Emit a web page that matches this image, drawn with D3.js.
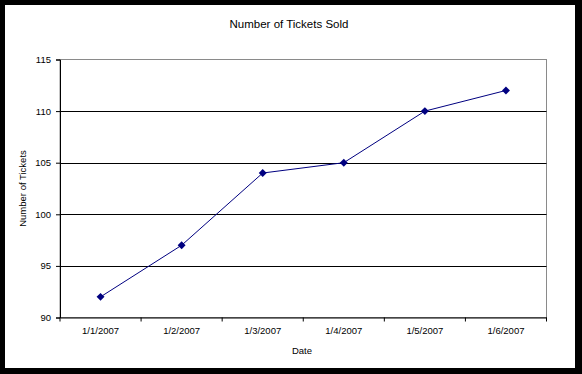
<!DOCTYPE html>
<html>
<head>
<meta charset="utf-8">
<script src="https://cdn.jsdelivr.net/npm/d3@7"></script>
<style>
  body { margin: 0; background: #000; }
  svg { display: block; }
  text { font-family: "Liberation Sans", Arial, sans-serif; fill: #000; }
</style>
</head>
<body>
<svg class="chart" width="582" height="374"></svg>
<script>
"use strict";

var dates = ['1/1/2007', '1/2/2007', '1/3/2007', '1/4/2007', '1/5/2007', '1/6/2007'];
var tickets = [92, 97, 104, 105, 110, 112];
var yTicks = [90, 95, 100, 105, 110, 115];

var margin = {left: 60, top: 59.5, right: 546.5, bottom: 317.5};

var svg = d3.select('.chart');

// white page inside the black frame
svg.append('rect')
  .attr('x', 5).attr('y', 5)
  .attr('width', 570).attr('height', 363)
  .attr('fill', '#fff');

var x = d3.scaleBand()
  .domain(dates)
  .range([margin.left, margin.right]);

var y = d3.scaleLinear()
  .domain([90, 115])
  .range([margin.bottom, margin.top]);

// plot area border (grey, top and right)
svg.append('rect')
  .attr('x', margin.left).attr('y', margin.top)
  .attr('width', margin.right - margin.left)
  .attr('height', margin.bottom - margin.top)
  .attr('fill', 'none')
  .attr('stroke', '#8a8a8a')
  .attr('stroke-width', 1);

// gridlines
svg.selectAll('.grid')
  .data(yTicks.slice(1, -1))
  .enter()
  .append('line')
  .attr('x1', margin.left).attr('x2', margin.right)
  .attr('y1', function (d) { return Math.round(y(d)) + 0.5; })
  .attr('y2', function (d) { return Math.round(y(d)) + 0.5; })
  .attr('stroke', '#000')
  .attr('stroke-width', 1);

var yAxis = svg.append('g')
  .attr('transform', 'translate(' + margin.left + ',0)')
  .call(d3.axisLeft(y).tickValues(yTicks).tickSize(4).tickPadding(5));

var xAxis = svg.append('g')
  .attr('transform', 'translate(0,' + margin.bottom + ')')
  .call(d3.axisBottom(x).tickSize(0).tickPadding(10));

// category boundary ticks
svg.selectAll('.xtick')
  .data(d3.range(dates.length + 1))
  .enter()
  .append('line')
  .attr('x1', function (i) { return margin.left + i * x.step(); })
  .attr('x2', function (i) { return margin.left + i * x.step(); })
  .attr('y1', margin.bottom)
  .attr('y2', margin.bottom + 4)
  .attr('stroke', '#000');

[yAxis, xAxis].forEach(function (g) {
  g.selectAll('text')
    .style('font-family', '"Liberation Sans", Arial, sans-serif')
    .style('font-size', '9.5px')
    .attr('fill', '#000');
  g.selectAll('line').attr('stroke', '#000');
  g.select('.domain').attr('stroke', '#000');
});

// series line
var line = d3.line()
  .x(function (d, i) { return x(dates[i]) + x.bandwidth() / 2; })
  .y(function (d) { return y(d); });

svg.append('path')
  .datum(tickets)
  .attr('d', line)
  .attr('fill', 'none')
  .attr('stroke', '#000080')
  .attr('stroke-width', 1);

svg.selectAll('.marker')
  .data(tickets)
  .enter()
  .append('path')
  .attr('d', d3.symbol().type(d3.symbolDiamond2).size(40))
  .attr('transform', function (d, i) {
    return 'translate(' + (x(dates[i]) + x.bandwidth() / 2) + ',' + y(d) + ')';
  })
  .attr('fill', '#000080');

// titles
svg.append('text')
  .attr('x', 289).attr('y', 28)
  .attr('text-anchor', 'middle')
  .style('font-size', '11.5px')
  .text('Number of Tickets Sold');

svg.append('text')
  .attr('x', 302).attr('y', 354)
  .attr('text-anchor', 'middle')
  .style('font-size', '9.5px')
  .text('Date');

svg.append('text')
  .attr('transform', 'translate(26,' + ((margin.top + margin.bottom) / 2) + ') rotate(-90)')
  .attr('text-anchor', 'middle')
  .style('font-size', '9.5px')
  .text('Number of Tickets');
</script>
</body>
</html>
